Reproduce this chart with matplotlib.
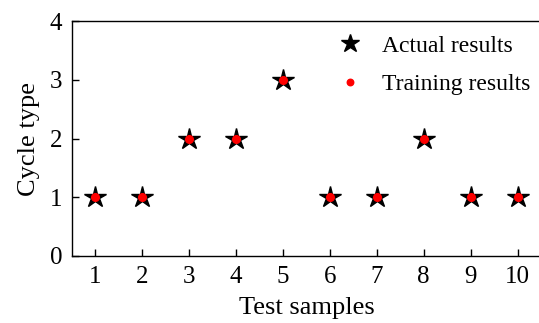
import matplotlib
matplotlib.use("Agg")
import matplotlib.pyplot as plt

samples = [1, 2, 3, 4, 5, 6, 7, 8, 9, 10]
actual = [1, 1, 2, 2, 3, 1, 1, 2, 1, 1]
training = [1, 1, 2, 2, 3, 1, 1, 2, 1, 1]

plt.rcParams['font.family'] = ['Liberation Serif', 'DejaVu Serif']
plt.rcParams['mathtext.fontset'] = 'stix'

fig = plt.figure(figsize=(5.39, 3.23), dpi=100)
ax = fig.add_axes([72/539, 1-256/323, (541-72)/539, (256-21)/323])

ax.plot(samples, actual, linestyle='none', marker='*', color='black', markersize=16, label='Actual results')
ax.plot(samples, training, linestyle='none', marker='o', color='red', markersize=5.5, label='Training results')

ax.set_xlim(0.5, 10.5)
ax.set_ylim(0, 4)
ax.set_xticks(samples)
ax.set_yticks([0, 1, 2, 3, 4])
ax.tick_params(direction='in', labelsize=18, length=5, width=1, pad=7)
for s in ax.spines.values():
    s.set_linewidth(1)
ax.spines['right'].set_visible(False)
ax.set_xlabel('Test samples', fontsize=19, labelpad=7)
ax.set_ylabel('Cycle type', fontsize=19, labelpad=7)

ax.legend(loc='upper right', frameon=False, fontsize=17, bbox_to_anchor=(1.023, 1.03),
          handletextpad=0.38, labelspacing=0.71, markerscale=0.85)

fig.savefig('out.png', dpi=100)
